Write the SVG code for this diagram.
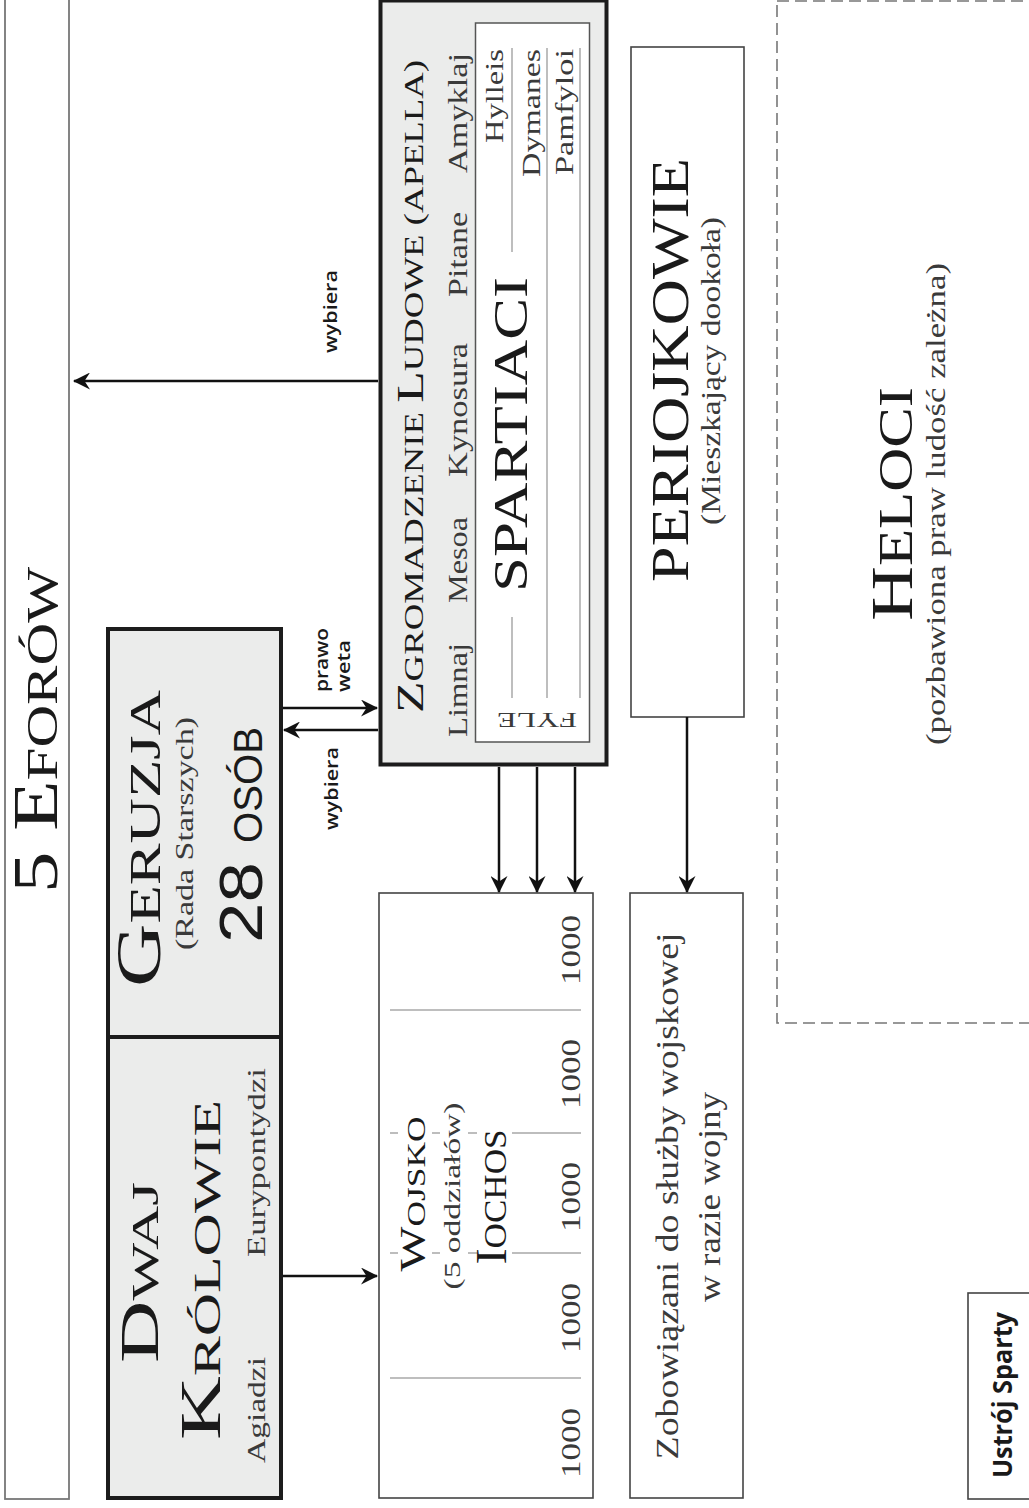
<svg xmlns="http://www.w3.org/2000/svg" width="1029" height="1508" viewBox="0 0 1029 1508">
<defs>
<style>
.bg{fill:#ffffff}
.box{fill:#ffffff;stroke:#444;stroke-width:1.6}
.thin{fill:#ffffff;stroke:#777;stroke-width:1.8}
.thick{fill:#ebeceb;stroke:#1c1c1c;stroke-width:4}
.dash{fill:none;stroke:#777;stroke-width:1.6;stroke-dasharray:12 6}
.sep{stroke:#a8a8a8;stroke-width:1.5;fill:none}
.conn{stroke:#111;stroke-width:2.5;fill:none;marker-end:url(#ah)}
.sf{font-family:"Liberation Serif","Times New Roman",serif;fill:#1a1a1a}
.sf2{font-family:"Liberation Serif","Times New Roman",serif;fill:#3a3a3a}
.ss{font-family:"Liberation Sans",Arial,sans-serif;fill:#1a1a1a}
.lab{font-family:"Open Sans","Liberation Sans",sans-serif;font-weight:600;fill:#1a1a1a;font-size:18px}
</style>
<marker id="ah" viewBox="0 0 17 17" refX="16" refY="8.5" markerWidth="17" markerHeight="17" markerUnits="userSpaceOnUse" orient="auto">
<path d="M17,8.5 L0,0 L5.5,8.5 L0,17 Z" fill="#111"/>
</marker>
</defs>
<rect class="bg" x="0" y="0" width="1029" height="1508"/>

<g id="efory">
<rect class="thin" x="5" y="-10" width="64" height="1509"/>
<text class="sf" transform="translate(57,893) rotate(-90)" textLength="326" lengthAdjust="spacingAndGlyphs"><tspan font-size="63">5 E</tspan><tspan font-size="45">FORÓW</tspan></text>
</g>

<g id="heloci">
<rect class="dash" x="777" y="1" width="300" height="1022"/>
<text class="sf" transform="translate(912,621) rotate(-90)" textLength="234" lengthAdjust="spacingAndGlyphs"><tspan font-size="60">H</tspan><tspan font-size="48">ELOCI</tspan></text>
<text class="sf2" font-size="28" transform="translate(945,745) rotate(-90)" textLength="482" lengthAdjust="spacingAndGlyphs">(pozbawiona praw ludość zależna)</text>
</g>

<g id="geruzja">
<rect class="thick" x="108" y="629" width="173" height="408"/>
<text class="sf" transform="translate(160,987) rotate(-90)" textLength="297" lengthAdjust="spacingAndGlyphs"><tspan font-size="63">G</tspan><tspan font-size="45">ERUZJA</tspan></text>
<text class="sf2" font-size="26" transform="translate(193,950) rotate(-90)" textLength="233" lengthAdjust="spacingAndGlyphs">(Rada Starszych)</text>
<text class="ss" font-size="62" transform="translate(262,943) rotate(-90)" textLength="81" lengthAdjust="spacingAndGlyphs">28</text>
<text class="ss" font-size="41" transform="translate(262,843) rotate(-90)" textLength="116" lengthAdjust="spacingAndGlyphs">OSÓB</text>
</g>

<g id="krolowie">
<rect class="thick" x="108" y="1037" width="173" height="461"/>
<text class="sf" transform="translate(158,1363) rotate(-90)" textLength="181" lengthAdjust="spacingAndGlyphs"><tspan font-size="54">D</tspan><tspan font-size="38">WAJ</tspan></text>
<text class="sf" transform="translate(220,1440) rotate(-90)" textLength="340" lengthAdjust="spacingAndGlyphs"><tspan font-size="56">K</tspan><tspan font-size="38">RÓLOWIE</tspan></text>
<text class="sf2" font-size="26" transform="translate(265,1463) rotate(-90)" textLength="106" lengthAdjust="spacingAndGlyphs">Agiadzi</text>
<text class="sf2" font-size="26" transform="translate(265,1257) rotate(-90)" textLength="189" lengthAdjust="spacingAndGlyphs">Eurypontydzi</text>
</g>

<g id="zgromadzenie">
<rect class="thick" x="380.5" y="0.5" width="226" height="764" stroke-width="4.5"/>
<rect x="475.5" y="23" width="114" height="719" fill="#ffffff" stroke="#555" stroke-width="1.5"/>
<text class="sf" transform="translate(423,713) rotate(-90)" textLength="653" lengthAdjust="spacingAndGlyphs"><tspan font-size="38">Z</tspan><tspan font-size="27">GROMADZENIE </tspan><tspan font-size="38">L</tspan><tspan font-size="27">UDOWE (APELLA)</tspan></text>
<text class="sf2" font-size="27" transform="translate(467,737) rotate(-90)" textLength="94" lengthAdjust="spacingAndGlyphs">Limnaj</text>
<text class="sf2" font-size="27" transform="translate(467,603) rotate(-90)" textLength="86" lengthAdjust="spacingAndGlyphs">Mesoa</text>
<text class="sf2" font-size="27" transform="translate(467,477) rotate(-90)" textLength="134" lengthAdjust="spacingAndGlyphs">Kynosura</text>
<text class="sf2" font-size="27" transform="translate(467,297) rotate(-90)" textLength="85" lengthAdjust="spacingAndGlyphs">Pitane</text>
<text class="sf2" font-size="27" transform="translate(467,173) rotate(-90)" textLength="120" lengthAdjust="spacingAndGlyphs">Amyklaj</text>
<line class="sep" x1="512" y1="48" x2="512" y2="252"/>
<line class="sep" x1="512" y1="617" x2="512" y2="698"/>
<line class="sep" x1="547" y1="48" x2="547" y2="698"/>
<line class="sep" x1="580" y1="48" x2="580" y2="698"/>
<text class="sf" font-size="48" transform="translate(527,592) rotate(-90)" textLength="315" lengthAdjust="spacingAndGlyphs">SPARTIACI</text>
<text class="sf2" font-size="26" transform="translate(503,143) rotate(-90)" textLength="94" lengthAdjust="spacingAndGlyphs">Hylleis</text>
<text class="sf2" font-size="26" transform="translate(540,177) rotate(-90)" textLength="128" lengthAdjust="spacingAndGlyphs">Dymanes</text>
<text class="sf2" font-size="26" transform="translate(573,175) rotate(-90)" textLength="126" lengthAdjust="spacingAndGlyphs">Pamfyloi</text>
<text class="sf2" font-size="22" transform="translate(577,713) rotate(180)" textLength="80" lengthAdjust="spacingAndGlyphs">FYLE</text>
</g>

<g id="periojkowie">
<rect class="box" x="631" y="47" width="113" height="670"/>
<text class="sf" font-size="52" transform="translate(688,582) rotate(-90)" textLength="424" lengthAdjust="spacingAndGlyphs">PERIOJKOWIE</text>
<text class="sf2" font-size="28" transform="translate(720,525) rotate(-90)" textLength="308" lengthAdjust="spacingAndGlyphs">(Mieszkający dookoła)</text>
</g>

<g id="wojsko">
<rect class="box" x="379" y="893" width="214" height="605"/>
<line class="sep" x1="390" y1="1010" x2="581" y2="1010"/>
<line class="sep" x1="390" y1="1378" x2="581" y2="1378"/>
<path class="sep" d="M390,1133 H398 M432,1133 H440 M468,1133 H477 M512,1133 H581 M390,1253 H398 M432,1253 H440 M468,1253 H477 M512,1253 H581"/>
<text class="sf" text-anchor="middle" transform="translate(425,1194) rotate(-90)" textLength="155" lengthAdjust="spacingAndGlyphs"><tspan font-size="35">W</tspan><tspan font-size="26">OJSKO</tspan></text>
<text class="sf2" font-size="24" text-anchor="middle" transform="translate(460,1196) rotate(-90)" textLength="187" lengthAdjust="spacingAndGlyphs">(5 oddziałów)</text>
<text class="sf" text-anchor="middle" transform="translate(506,1197) rotate(-90)" textLength="135" lengthAdjust="spacingAndGlyphs"><tspan font-size="44">I</tspan><tspan font-size="32">OCHOS</tspan></text>
<text class="sf2" font-size="28" text-anchor="middle" transform="translate(580,950) rotate(-90)" textLength="70" lengthAdjust="spacingAndGlyphs">1000</text>
<text class="sf2" font-size="28" text-anchor="middle" transform="translate(580,1074) rotate(-90)" textLength="70" lengthAdjust="spacingAndGlyphs">1000</text>
<text class="sf2" font-size="28" text-anchor="middle" transform="translate(580,1197) rotate(-90)" textLength="70" lengthAdjust="spacingAndGlyphs">1000</text>
<text class="sf2" font-size="28" text-anchor="middle" transform="translate(580,1318) rotate(-90)" textLength="70" lengthAdjust="spacingAndGlyphs">1000</text>
<text class="sf2" font-size="28" text-anchor="middle" transform="translate(580,1443) rotate(-90)" textLength="70" lengthAdjust="spacingAndGlyphs">1000</text>
</g>

<g id="zobowiazani">
<rect class="box" x="630" y="893" width="113" height="605"/>
<text class="sf2" font-size="32" text-anchor="middle" transform="translate(678,1196) rotate(-90)" textLength="527" lengthAdjust="spacingAndGlyphs">Zobowiązani do służby wojskowej</text>
<text class="sf2" font-size="32" text-anchor="middle" transform="translate(720,1197) rotate(-90)" textLength="210" lengthAdjust="spacingAndGlyphs">w razie wojny</text>
</g>

<g id="ustroj">
<rect class="box" x="968" y="1293" width="80" height="206"/>
<text font-family="'Open Sans','Liberation Sans',sans-serif" font-weight="700" font-size="26" fill="#1a1a1a" transform="translate(1012,1478) rotate(-90)" textLength="166" lengthAdjust="spacingAndGlyphs">Ustrój Sparty</text>
</g>

<g id="connectors">
<line class="conn" x1="378" y1="381" x2="74" y2="381"/>
<line class="conn" x1="283" y1="708" x2="377" y2="708"/>
<line class="conn" x1="378" y1="730" x2="284" y2="730"/>
<line class="conn" x1="283" y1="1276" x2="377" y2="1276"/>
<line class="conn" x1="499" y1="767" x2="499" y2="892"/>
<line class="conn" x1="537" y1="767" x2="537" y2="892"/>
<line class="conn" x1="575" y1="767" x2="575" y2="892"/>
<line class="conn" x1="687" y1="717" x2="687" y2="892"/>
<text class="lab" transform="translate(337,353) rotate(-90)" textLength="83" lengthAdjust="spacingAndGlyphs">wybiera</text>
<text class="lab" transform="translate(338,830) rotate(-90)" textLength="83" lengthAdjust="spacingAndGlyphs">wybiera</text>
<text class="lab" transform="translate(328,692) rotate(-90)" textLength="64" lengthAdjust="spacingAndGlyphs">prawo</text>
<text class="lab" transform="translate(350,692) rotate(-90)" textLength="52" lengthAdjust="spacingAndGlyphs">weta</text>
</g>
</svg>
